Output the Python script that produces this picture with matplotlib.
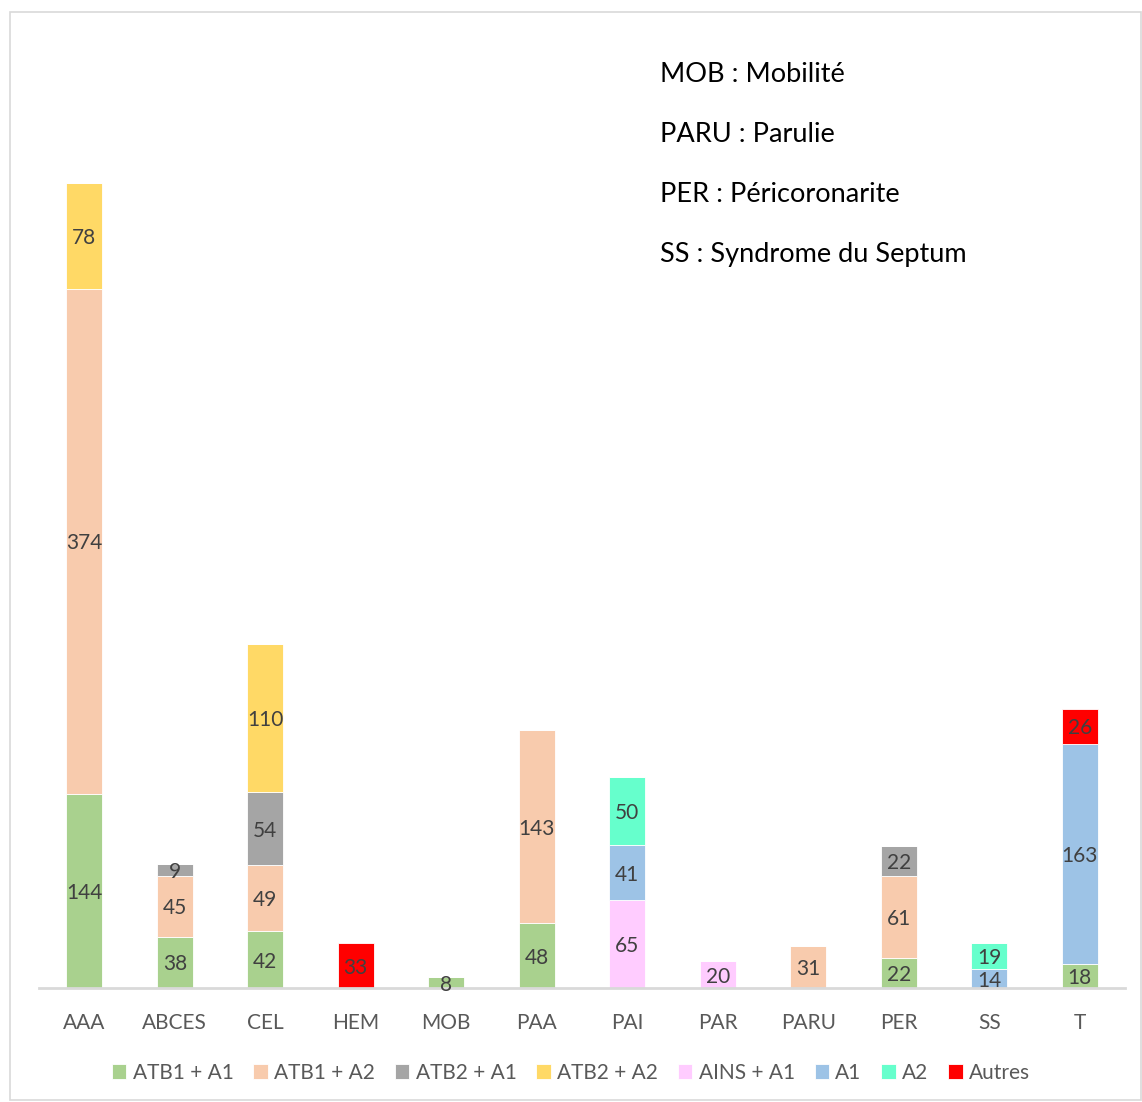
import numpy as np
import matplotlib.pyplot as plt
from matplotlib.patches import Rectangle

# Data
categories = ['AAA', 'ABCES', 'CEL', 'HEM', 'MOB', 'PAA', 'PAI', 'PAR', 'PARU', 'PER', 'SS', 'T']
series_names = ['ATB1 + A1', 'ATB1 + A2', 'ATB2 + A1', 'ATB2 + A2', 'AINS + A1', 'A1', 'A2', 'Autres']
atb1_a1 = [144, 38, 42, 0, 8, 48, 0, 0, 0, 22, 0, 18]
atb1_a2 = [374, 45, 49, 0, 0, 143, 0, 0, 31, 61, 0, 0]
atb2_a1 = [0, 9, 54, 0, 0, 0, 0, 0, 0, 22, 0, 0]
atb2_a2 = [78, 0, 110, 0, 0, 0, 0, 0, 0, 0, 0, 0]
ains_a1 = [0, 0, 0, 0, 0, 0, 65, 20, 0, 0, 0, 0]
a1 = [0, 0, 0, 0, 0, 0, 41, 0, 0, 0, 14, 163]
a2 = [0, 0, 0, 0, 0, 0, 50, 0, 0, 0, 19, 0]
autres = [0, 0, 0, 33, 0, 0, 0, 0, 0, 0, 0, 26]
notes = ['MOB : Mobilité', 'PARU : Parulie', 'PER : Péricoronarite', 'SS : Syndrome du Septum']

colors = ['#a9d18e', '#f8cbad', '#a5a5a5', '#ffd966', '#ffccff', '#9dc3e6', '#66ffcc', '#ff0000']
plt.rcParams['font.family'] = ['Lato', 'DejaVu Sans']

fig = plt.figure(figsize=(11.42, 11.02), dpi=100)
ax = fig.add_axes([0.0342, 0.1034, 0.9508, 0.8576])

# Chart border
fig.patches.append(Rectangle((10 / 1142, 0.002), 1 - 10 / 1142 - 0.001, 1 - 12 / 1102 - 0.002,
                             transform=fig.transFigure, fill=False, edgecolor='#d9d9d9', linewidth=1.2))

x = np.arange(len(categories))
bottom = np.zeros(len(categories))
all_series = [atb1_a1, atb1_a2, atb2_a1, atb2_a2, ains_a1, a1, a2, autres]
for name, vals, c in zip(series_names, all_series, colors):
    vals = np.array(vals, dtype=float)
    ax.bar(x, vals, 0.4, bottom=bottom, color=c, label=name, edgecolor='white', linewidth=0.6)
    for xi, v, b in zip(x, vals, bottom):
        if v > 0:
            ax.text(xi, b + v / 2, f'{int(v)}', ha='center', va='center_baseline',
                    fontsize=15, color='#404040')
    bottom += vals

ax.set_xlim(-0.5, 11.5)
ax.set_ylim(0, 700)
ax.set_yticks([])
ax.set_xticks(x)
ax.set_xticklabels(categories, fontsize=15, color='#595959')
ax.tick_params(axis='x', length=0, pad=18)
for s in ['top', 'right', 'left']:
    ax.spines[s].set_visible(False)
ax.spines['bottom'].set_color('#d9d9d9')
ax.spines['bottom'].set_linewidth(2)

for i, t in enumerate(notes):
    fig.text(660 / 1142, 1 - (75 + 60 * i) / 1102, t, fontsize=19.5, color='black', ha='left', va='center')

fig.legend(loc='center', bbox_to_anchor=(0.5, 1 - 1073 / 1102), ncol=8, frameon=False,
           fontsize=15, labelcolor='#595959', handlelength=0.7, handleheight=0.7,
           handletextpad=0.3, columnspacing=0.95)

plt.savefig('out.png', dpi=100)
